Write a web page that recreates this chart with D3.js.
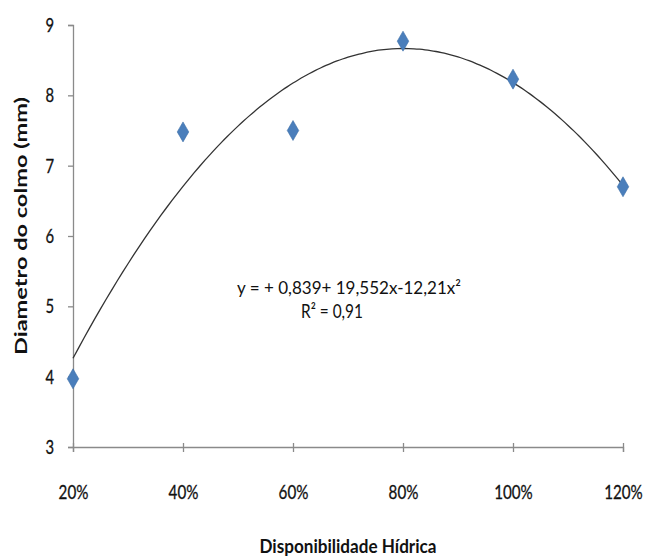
<!DOCTYPE html>
<html>
<head>
<meta charset="utf-8">
<script src="https://cdn.jsdelivr.net/npm/d3@7"></script>
<style>
  html, body { margin: 0; padding: 0; background: #fff; }
  svg text { font-family: Lato, "Open Sans", sans-serif; fill: #111; }
</style>
</head>
<body>
<svg id="chart" width="646" height="559"></svg>
<script>
// Water availability levels (fraction) and measured stem diameter (mm)
const levels = [0.2, 0.4, 0.6, 0.8, 1.0, 1.2];
const diameters = [3.97, 7.48, 7.5, 8.77, 8.23, 6.7];
const xTickLabels = ["20%", "40%", "60%", "80%", "100%", "120%"];
const yTicks = [3, 4, 5, 6, 7, 8, 9];
// Quadratic trend coefficients (as printed on the chart)
const coef = [0.839, 19.552, -12.21];
const equationLines = ["y = + 0,839+ 19,552x-12,21x²", "R² = 0,91"];

const svg = d3.select("#chart");
const axisColor = "#8a8a8a";

const x = d3.scaleLinear().domain([0.2, 1.2]).range([73, 623]);
const y = d3.scaleLinear().domain([3, 9]).range([447, 25]);

// y axis
const yAxis = svg.append("g").attr("transform", "translate(73,0)")
  .call(d3.axisLeft(y).tickValues(yTicks).tickSize(5).tickPadding(0).tickFormat(d3.format("d")));
yAxis.select(".domain").attr("stroke", axisColor).attr("stroke-width", 1.3);
yAxis.selectAll(".tick line").attr("stroke", axisColor).attr("stroke-width", 1.3);
yAxis.selectAll(".tick text")
  .attr("font-size", 19)
  .attr("stroke", "#111").attr("stroke-width", 0.3)
  .attr("x", 0).attr("dy", "0.34em")
  .attr("transform", "translate(-19,0) scale(0.78,1)");

// x axis
const xAxis = svg.append("g").attr("transform", "translate(0,447)")
  .call(d3.axisBottom(x).tickValues(levels).tickSize(5).tickPadding(0)
    .tickFormat((d, i) => xTickLabels[i]));
xAxis.select(".domain").attr("stroke", axisColor).attr("stroke-width", 1.3);
xAxis.selectAll(".tick line").attr("stroke", axisColor).attr("stroke-width", 1.3).attr("y1", -4);
xAxis.selectAll(".tick text")
  .attr("font-size", 19)
  .attr("stroke", "#111").attr("stroke-width", 0.3)
  .attr("y", 0).attr("dy", 0)
  .attr("transform", "translate(0,52) scale(0.8,1)");

// axis titles
svg.append("text")
  .attr("x", 348).attr("y", 553)
  .attr("text-anchor", "middle")
  .attr("font-size", 18).attr("font-weight", "bold")
  .attr("textLength", 177).attr("lengthAdjust", "spacingAndGlyphs")
  .text("Disponibilidade Hídrica");

svg.append("text")
  .attr("transform", "translate(27,226) rotate(-90)")
  .attr("text-anchor", "middle")
  .attr("font-size", 17).attr("font-weight", "bold")
  .attr("font-family", "'Open Sans', sans-serif")
  .attr("textLength", 258).attr("lengthAdjust", "spacingAndGlyphs")
  .text("Diametro do colmo (mm)");

// trend curve from the printed equation
const curvePts = d3.range(0.2, 1.2001, 0.01).map(v => [v, coef[0] + coef[1] * v + coef[2] * v * v]);
svg.append("path")
  .datum(curvePts)
  .attr("fill", "none")
  .attr("stroke", "#333")
  .attr("stroke-width", 1.3)
  .attr("d", d3.line().x(d => x(d[0])).y(d => y(d[1])).curve(d3.curveMonotoneX));

// diamond markers
const diamond = d3.symbol().type(d3.symbolDiamond).size(115);
svg.append("g").selectAll("path")
  .data(levels.map((l, i) => [l, diameters[i]]))
  .join("path")
  .attr("d", diamond)
  .attr("transform", d => `translate(${x(d[0])},${y(d[1])})`)
  .attr("fill", "#4a7ebb")
  .attr("stroke", "#3d6ea8")
  .attr("stroke-width", 0.6);

// equation text
const eq = svg.append("g");
eq.append("text")
  .attr("x", 349).attr("y", 294)
  .attr("text-anchor", "middle")
  .attr("font-size", 18)
  .attr("textLength", 224).attr("lengthAdjust", "spacingAndGlyphs")
  .text(equationLines[0]);
eq.append("text")
  .attr("x", 332).attr("y", 318)
  .attr("text-anchor", "middle")
  .attr("font-size", 19)
  .attr("textLength", 62).attr("lengthAdjust", "spacingAndGlyphs")
  .text(equationLines[1]);
</script>
</body>
</html>
